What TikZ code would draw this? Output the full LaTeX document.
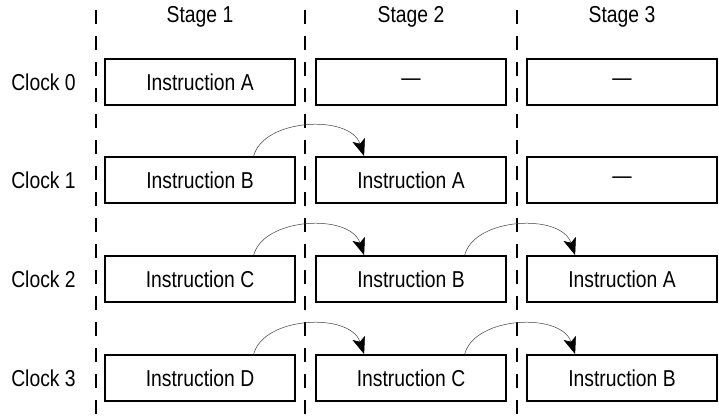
\documentclass[tikz,border=0pt]{standalone}
\usepackage{fontspec}
\setmainfont{Liberation Sans}[FakeStretch=0.84]
\usetikzlibrary{arrows.meta}
\begin{document}
\begin{tikzpicture}[x=1pt,y=-1pt,
  font=\fontsize{23}{26}\selectfont,
  cell/.style={draw, line width=1.8pt, minimum width=190pt, minimum height=46pt, inner sep=0pt},
  divider/.style={line width=1.8pt, dash pattern=on 14pt off 12pt},
  flow/.style={line width=0.5pt, draw=black!75, -{Stealth[length=17pt 0,width=13pt 0,inset=4pt,color=black,fill=black]}},
  lbl/.style={inner sep=0pt}]
\useasboundingbox (0,0) rectangle (719,419);
% dividers
\coordinate (d1t) at (96,10);  \coordinate (d1b) at (96,419);
\coordinate (d2t) at (305,10); \coordinate (d2b) at (305,419);
\coordinate (d3t) at (517,10); \coordinate (d3b) at (517,419);
\draw[divider] (d1t) -- (d1b);
\draw[divider] (d2t) -- (d2b);
\draw[divider] (d3t) -- (d3b);
% headers
\node[lbl] (h1) at (200,17) {Stage 1};
\node[lbl] (h2) at (411,17) {Stage 2};
\node[lbl] (h3) at (622,17) {Stage 3};
% clock labels
\node[lbl] (c0) at (43.5,82) {Clock 0};
\node[lbl] (c1) at (43.5,180) {Clock 1};
\node[lbl] (c2) at (43.5,279) {Clock 2};
\node[lbl] (c3) at (43.5,378) {Clock 3};
% cells
\node[cell] (a0) at (200,82) {Instruction A};
\node[cell] (b0) at (411,82) {—};
\node[cell] (e0) at (622,82) {—};
\node[cell] (a1) at (200,180) {Instruction B};
\node[cell] (b1) at (411,180) {Instruction A};
\node[cell] (e1) at (622,180) {—};
\node[cell] (a2) at (200,279) {Instruction C};
\node[cell] (b2) at (411,279) {Instruction B};
\node[cell] (e2) at (622,279) {Instruction A};
\node[cell] (a3) at (200,378) {Instruction D};
\node[cell] (b3) at (411,378) {Instruction C};
\node[cell] (e3) at (622,378) {Instruction B};
% arrows
\draw[flow] (a1.24) .. controls ++(10,-38) and ++(-14,-42) .. (b1.153);
\draw[flow] (a2.24) .. controls ++(10,-38) and ++(-14,-42) .. (b2.153);
\draw[flow] (b2.24) .. controls ++(10,-38) and ++(-14,-42) .. (e2.153);
\draw[flow] (a3.24) .. controls ++(10,-38) and ++(-14,-42) .. (b3.153);
\draw[flow] (b3.24) .. controls ++(10,-38) and ++(-14,-42) .. (e3.153);
\end{tikzpicture}
\end{document}
